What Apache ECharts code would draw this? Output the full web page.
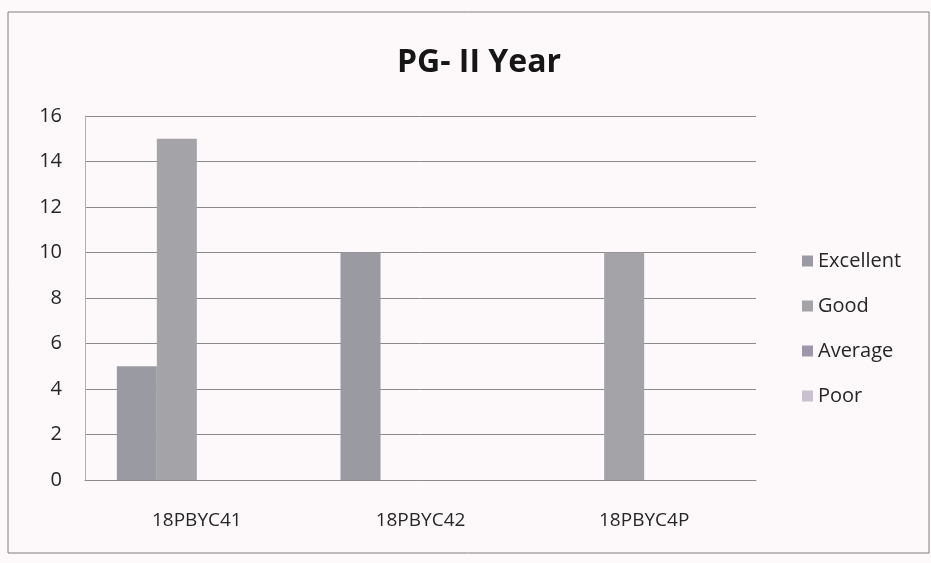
<!DOCTYPE html>
<html>
<head>
<meta charset="utf-8">
<script src="https://cdn.jsdelivr.net/npm/echarts@6/dist/echarts.min.js"></script>
<style>
  html, body { margin: 0; padding: 0; background: #fdf9fa; }
  #chart { width: 931px; height: 563px; }
</style>
</head>
<body>
<div id="chart"></div>
<script>
const categories = ['18PBYC41', '18PBYC42', '18PBYC4P'];
const seriesNames = ['Excellent', 'Good', 'Average', 'Poor'];
const excellent = [5, 10, 0];
const good = [15, 0, 10];
const average = [0, 0, 0];
const poor = [0, 0, 0];
const seriesColors = ['#9a9aa3', '#a3a3a8', '#9d97a9', '#c9c1cd'];

const values = [excellent, good, average, poor];
const font = '"Open Sans", sans-serif';

const chart = echarts.init(document.getElementById('chart'), null, { renderer: 'canvas' });

chart.setOption({
  backgroundColor: '#fdf9fa',
  animation: false,
  title: {
    text: 'PG- II Year',
    left: 474,
    top: 42,
    textAlign: 'center',
    textStyle: { fontFamily: font, fontSize: 32, fontWeight: 'bold', color: '#161616' },
  },
  graphic: [{
    type: 'rect',
    shape: { x: 8, y: 12, width: 921, height: 541 },
    style: { fill: 'none', stroke: '#7c7c7c', lineWidth: 1 },
    silent: true,
  }],
  legend: {
    orient: 'vertical',
    left: 797,
    top: 246,
    itemWidth: 11,
    itemHeight: 11,
    itemGap: 25,
    icon: 'rect',
    textStyle: { fontFamily: font, fontSize: 20, color: '#262626' },
    data: seriesNames,
  },
  grid: { left: 85, right: 175, top: 116, bottom: 83, containLabel: false },
  xAxis: {
    type: 'category',
    data: categories,
    axisLine: { show: true, lineStyle: { color: '#8a8a8a', width: 1 } },
    axisTick: { show: false },
    axisLabel: { fontFamily: font, fontSize: 19, color: '#262626', margin: 31 },
  },
  yAxis: {
    type: 'value',
    min: 0,
    max: 16,
    interval: 2,
    axisLine: { show: true, lineStyle: { color: '#b0b0b0', width: 1 } },
    axisTick: { show: false },
    axisLabel: { fontFamily: font, fontSize: 20, color: '#262626', margin: 23 },
    splitLine: { lineStyle: { color: '#8a8a8a', width: 1 } },
  },
  series: seriesNames.map((name, i) => ({
    name,
    type: 'bar',
    data: values[i],
    barWidth: 40,
    barGap: '0%',
    itemStyle: { color: seriesColors[i] },
  })),
});
</script>
</body>
</html>
